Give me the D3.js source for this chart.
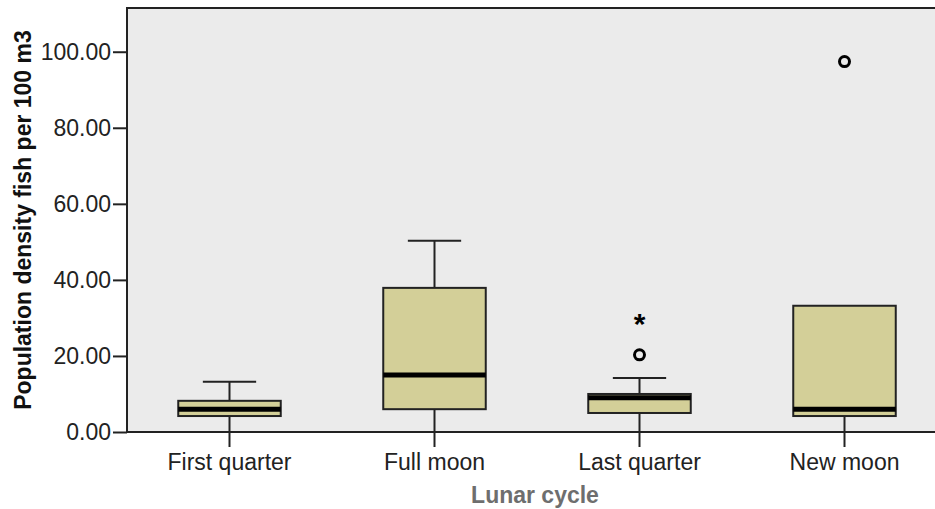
<!DOCTYPE html>
<meta charset="utf-8">
<script src="https://d3js.org/d3.v7.min.js"></script>
<style>
  body { margin: 0; background: #fff; }
  svg { display: block; font-family: "Liberation Sans", Arial, sans-serif; }
</style>
<div id="chart"></div>
<script>
// values
var categories = ["First quarter", "Full moon", "Last quarter", "New moon"];
var whiskerLow = [0, 0, 0, 0];
var q1 = [4.2, 6.0, 5.0, 4.2];
var medians = [6.0, 15.0, 9.0, 6.0];
var q3 = [8.2, 37.9, 10.0, 33.2];
var whiskerHigh = [13.2, 50.3, 14.2, 33.2];
var outlierCats = ["Last quarter", "New moon"];
var outlierVals = [20.3, 97.4];
var extremeCats = ["Last quarter"];
var extremeVals = [29.2];
var yTicks = [0, 20, 40, 60, 80, 100];

var W = 935, H = 509;
var plot = { left: 127, top: 8, right: 947, bottom: 432 };

var svg = d3.select("#chart").append("svg")
    .attr("width", W)
    .attr("height", H);

var x = d3.scaleBand()
    .domain(categories)
    .range([plot.left, plot.right])
    .paddingInner(0.5)
    .paddingOuter(0.25);

var y = d3.scaleLinear()
    .domain([0, 111.5])
    .range([plot.bottom, plot.top]);

// plot background
svg.append("rect")
    .attr("x", plot.left)
    .attr("y", plot.top)
    .attr("width", plot.right - plot.left)
    .attr("height", plot.bottom - plot.top)
    .attr("fill", "#ebebeb")
    .attr("stroke", "#222")
    .attr("stroke-width", 2);

var boxes = categories.map(function(c, i) {
  return { cat: c, lo: whiskerLow[i], q1: q1[i], med: medians[i], q3: q3[i], hi: whiskerHigh[i] };
});

var g = svg.append("g");
var bw = x.bandwidth();

// whiskers
g.selectAll(".wlo").data(boxes).enter().append("line")
    .attr("x1", function(d) { return x(d.cat) + bw / 2; })
    .attr("x2", function(d) { return x(d.cat) + bw / 2; })
    .attr("y1", function(d) { return y(d.lo); })
    .attr("y2", function(d) { return y(d.q1); })
    .attr("stroke", "#222").attr("stroke-width", 2);

var withUpper = boxes.filter(function(d) { return d.hi > d.q3; });

g.selectAll(".whi").data(withUpper).enter().append("line")
    .attr("x1", function(d) { return x(d.cat) + bw / 2; })
    .attr("x2", function(d) { return x(d.cat) + bw / 2; })
    .attr("y1", function(d) { return y(d.hi); })
    .attr("y2", function(d) { return y(d.q3); })
    .attr("stroke", "#222").attr("stroke-width", 2);

g.selectAll(".cap").data(withUpper).enter().append("line")
    .attr("x1", function(d) { return x(d.cat) + bw * 0.24; })
    .attr("x2", function(d) { return x(d.cat) + bw * 0.76; })
    .attr("y1", function(d) { return y(d.hi); })
    .attr("y2", function(d) { return y(d.hi); })
    .attr("stroke", "#222").attr("stroke-width", 2);

// boxes
g.selectAll(".box").data(boxes).enter().append("rect")
    .attr("x", function(d) { return x(d.cat); })
    .attr("y", function(d) { return y(d.q3); })
    .attr("width", bw)
    .attr("height", function(d) { return y(d.q1) - y(d.q3); })
    .attr("fill", "#d3cf98")
    .attr("stroke", "#222")
    .attr("stroke-width", 2);

// medians
g.selectAll(".med").data(boxes).enter().append("line")
    .attr("x1", function(d) { return x(d.cat); })
    .attr("x2", function(d) { return x(d.cat) + bw; })
    .attr("y1", function(d) { return y(d.med); })
    .attr("y2", function(d) { return y(d.med); })
    .attr("stroke", "#000").attr("stroke-width", 5);

// outliers
g.selectAll(".out").data(outlierCats).enter().append("circle")
    .attr("cx", function(d) { return x(d) + bw / 2; })
    .attr("cy", function(d, i) { return y(outlierVals[i]); })
    .attr("r", 5)
    .attr("fill", "none")
    .attr("stroke", "#000")
    .attr("stroke-width", 3);

g.selectAll(".ext").data(extremeCats).enter().append("text")
    .attr("x", function(d) { return x(d) + bw / 2; })
    .attr("y", function(d, i) { return y(extremeVals[i]) + 13; })
    .attr("text-anchor", "middle")
    .attr("font-size", "30px")
    .attr("font-weight", "bold")
    .text("*");

// y axis
var yAxis = svg.append("g")
    .attr("transform", "translate(" + plot.left + ",0)")
    .call(d3.axisLeft(y).tickValues(yTicks).tickFormat(d3.format(".2f")).tickSize(14).tickSizeOuter(0));
yAxis.select(".domain").remove();
yAxis.selectAll("line").attr("stroke", "#222").attr("stroke-width", 2);
yAxis.selectAll("text").attr("font-size", "23px").attr("fill", "#222").attr("font-family", "Liberation Sans, Arial, sans-serif").attr("dx", "1px");

// x axis
var xAxis = svg.append("g")
    .attr("transform", "translate(0," + plot.bottom + ")")
    .call(d3.axisBottom(x).tickSize(15).tickSizeOuter(0));
xAxis.select(".domain").remove();
xAxis.selectAll("line").attr("stroke", "#222").attr("stroke-width", 2);
xAxis.selectAll("text").attr("font-size", "23px").attr("fill", "#222").attr("font-family", "Liberation Sans, Arial, sans-serif").attr("dy", "0.85em");

// axis titles
svg.append("text")
    .attr("transform", "translate(31," + ((plot.top + plot.bottom) / 2) + ") rotate(-90)")
    .attr("text-anchor", "middle")
    .attr("font-size", "23px")
    .attr("font-weight", "bold")
    .attr("fill", "#111")
    .text("Population density fish per 100 m3");

svg.append("text")
    .attr("x", 535)
    .attr("y", 503)
    .attr("text-anchor", "middle")
    .attr("font-size", "23px")
    .attr("font-weight", "bold")
    .attr("fill", "#6e6e6e")
    .text("Lunar cycle");
</script>
